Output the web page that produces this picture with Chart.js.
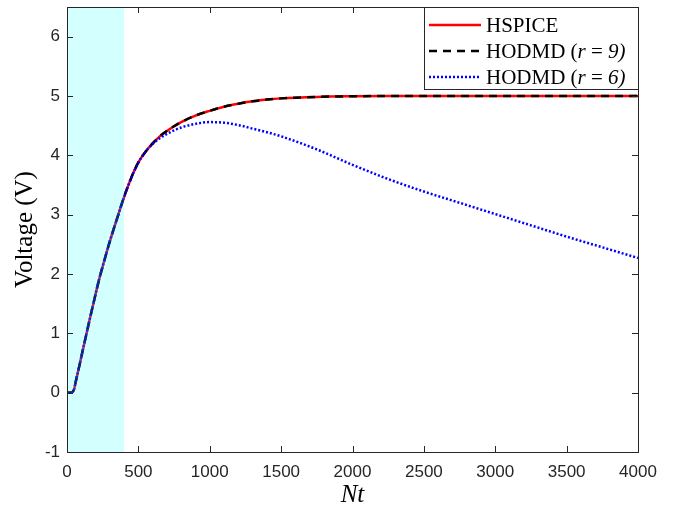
<!DOCTYPE html>
<html>
<head>
<meta charset="utf-8">
<script src="https://cdn.jsdelivr.net/npm/chart.js@4.4.1/dist/chart.umd.min.js"></script>
<style>
  html, body { margin: 0; padding: 0; background: #fff; }
  #wrap { width: 678px; height: 515px; }
</style>
</head>
<body>
<div id="wrap"><canvas id="myChart" width="678" height="515"></canvas></div>
<script>
// time steps (Nt) and voltages
const ntSteps = [0, 30, 40, 50, 60, 75, 100, 125, 150, 175, 200, 225, 250, 300, 350, 400, 450, 500, 550, 600, 650, 700, 750, 800, 900, 1000, 1100, 1200, 1300, 1400, 1500, 1750, 2000, 2250, 2500, 2750, 3000, 3250, 3500, 3750, 4000];
const hspice = [0, 0.003, 0.015, 0.06, 0.17, 0.33, 0.6, 0.87, 1.14, 1.4, 1.66, 1.91, 2.13, 2.55, 2.93, 3.3, 3.62, 3.88, 4.06, 4.2, 4.32, 4.41, 4.49, 4.56, 4.67, 4.75, 4.82, 4.87, 4.91, 4.94, 4.96, 4.985, 4.995, 5, 5, 5, 5, 5, 5, 5, 5];
const hodmd9 = [0, 0.003, 0.015, 0.06, 0.17, 0.33, 0.6, 0.87, 1.14, 1.4, 1.66, 1.91, 2.13, 2.55, 2.93, 3.3, 3.62, 3.88, 4.06, 4.2, 4.32, 4.41, 4.49, 4.56, 4.67, 4.75, 4.82, 4.87, 4.91, 4.94, 4.96, 4.985, 4.995, 5, 5, 5, 5, 5, 5, 5, 5];
const hodmd6 = [0, 0.003, 0.015, 0.06, 0.17, 0.33, 0.6, 0.87, 1.14, 1.4, 1.66, 1.91, 2.13, 2.55, 2.93, 3.3, 3.62, 3.88, 4.06, 4.19, 4.29, 4.36, 4.42, 4.47, 4.53, 4.56, 4.55, 4.51, 4.45, 4.39, 4.32, 4.1, 3.84, 3.6, 3.39, 3.2, 3.01, 2.82, 2.63, 2.45, 2.27];
const xTicks = [0, 500, 1000, 1500, 2000, 2500, 3000, 3500, 4000];
const yTicks = [-1, 0, 1, 2, 3, 4, 5, 6];
const trainEnd = 400;

const axisColor = "#262626";

function pts(ys) {
  return ntSteps.map((x, i) => ({ x: x, y: ys[i] }));
}

const frame = {
  id: "frame",
  afterDatasetsDraw(chart) {
    const { ctx, chartArea: a, scales } = chart;
    const xs = scales.x, ys = scales.y;
    ctx.save();
    // training window shading, drawn over the curves
    ctx.fillStyle = "rgba(0,255,255,0.17)";
    const x0 = xs.getPixelForValue(0), x1 = xs.getPixelForValue(trainEnd);
    ctx.fillRect(x0, a.top, x1 - x0, a.bottom - a.top);

    ctx.strokeStyle = axisColor;
    ctx.lineWidth = 1;
    ctx.strokeRect(Math.round(a.left) + 0.5, Math.round(a.top) + 0.5, Math.round(a.right - a.left), Math.round(a.bottom - a.top));
    const tl = 6;
    ctx.beginPath();
    xTicks.forEach(v => {
      const px = Math.round(xs.getPixelForValue(v)) + 0.5;
      ctx.moveTo(px, a.bottom); ctx.lineTo(px, a.bottom - tl);
      ctx.moveTo(px, a.top); ctx.lineTo(px, a.top + tl);
    });
    yTicks.forEach(v => {
      const py = Math.round(ys.getPixelForValue(v)) + 0.5;
      ctx.moveTo(a.left, py); ctx.lineTo(a.left + tl, py);
      ctx.moveTo(a.right, py); ctx.lineTo(a.right - tl, py);
    });
    ctx.stroke();
    ctx.restore();
  },
  afterDraw(chart) {
    const { ctx, chartArea: a } = chart;
    const ds = chart.data.datasets;
    ctx.save();
    const bx = 424, by = Math.round(a.top) + 0.5, bw = a.right - 424, bh = 82;
    ctx.fillStyle = "#fff";
    ctx.fillRect(bx, by, bw, bh);
    ctx.strokeStyle = axisColor;
    ctx.lineWidth = 1;
    ctx.strokeRect(bx + 0.5, by, bw, bh);

    const rows = [
      [["HSPICE", "normal"]],
      [["HODMD (", "normal"], ["r", "italic"], [" = ", "normal"], ["9)", "italic"]],
      [["HODMD (", "normal"], ["r", "italic"], [" = ", "normal"], ["6)", "italic"]]
    ];
    rows.forEach((parts, i) => {
      const y = 25 + i * 26;
      const d = ds[i];
      ctx.strokeStyle = d.borderColor;
      ctx.lineWidth = d.borderWidth;
      ctx.setLineDash(d.borderDash || []);
      ctx.beginPath();
      ctx.moveTo(429, y); ctx.lineTo(481, y);
      ctx.stroke();
      ctx.setLineDash([]);
      let tx = 486;
      ctx.fillStyle = "#000";
      ctx.textBaseline = "middle";
      parts.forEach(([s, st]) => {
        ctx.font = st + " 21px 'Liberation Serif', 'Times New Roman', serif";
        ctx.fillText(s, tx, y + 1);
        tx += ctx.measureText(s).width;
      });
    });
    ctx.restore();
  }
};

const data = {
  datasets: [
    {
      label: "HSPICE",
      data: pts(hspice),
      borderColor: "#ff0000",
      borderWidth: 2.5,
      order: 3,
    },
    {
      label: "HODMD (r = 9)",
      data: pts(hodmd9),
      borderColor: "#000000",
      borderWidth: 2.5,
      borderDash: [8, 6],
      order: 2,
    },
    {
      label: "HODMD (r = 6)",
      data: pts(hodmd6),
      borderColor: "#0000ff",
      borderWidth: 2.5,
      borderDash: [2, 2],
      order: 1,
    },
  ],
};

const config = {
  type: "line",
  data: data,
  options: {
    responsive: false,
    animation: false,
    layout: { padding: { top: 7, right: 40, left: 0, bottom: 0 } },
    elements: {
      point: { radius: 0 },
      line: { cubicInterpolationMode: "monotone", borderCapStyle: "butt" },
    },
    plugins: { legend: { display: false }, tooltip: { enabled: false } },
    scales: {
      x: {
        type: "linear",
        min: 0,
        max: 4000,
        afterFit: (s) => { s.height = 63; s.paddingLeft = 0; s.paddingRight = 0; },
        afterBuildTicks: (s) => { s.ticks = xTicks.map(v => ({ value: v })); },
        grid: { display: false, drawTicks: false },
        border: { display: false },
        ticks: {
          padding: 10,
          color: axisColor,
          font: { family: "'Liberation Sans', Arial, sans-serif", size: 17 },
          maxRotation: 0,
          callback: (v) => String(v),
        },
        title: {
          display: true,
          text: "Nt",
          color: "#000",
          font: { family: "'Liberation Serif', 'Times New Roman', serif", size: 25, style: "italic" },
          padding: { top: 0, bottom: 5 },
        },
      },
      y: {
        type: "linear",
        min: -1,
        max: 6.5,
        afterFit: (s) => { s.width = 67; s.paddingTop = 0; s.paddingBottom = 0; },
        afterBuildTicks: (s) => { s.ticks = yTicks.map(v => ({ value: v })); },
        grid: { display: false, drawTicks: false },
        border: { display: false },
        ticks: {
          padding: 7,
          color: axisColor,
          font: { family: "'Liberation Sans', Arial, sans-serif", size: 17 },
          callback: (v) => String(v),
        },
        title: {
          display: true,
          text: "Voltage (V)",
          color: "#000",
          font: { family: "'Liberation Serif', 'Times New Roman', serif", size: 25 },
          padding: { top: 10, bottom: 0 },
        },
      },
    },
  },
  plugins: [frame],
};

const myChart = new Chart(document.getElementById("myChart"), config);
</script>
</body>
</html>
